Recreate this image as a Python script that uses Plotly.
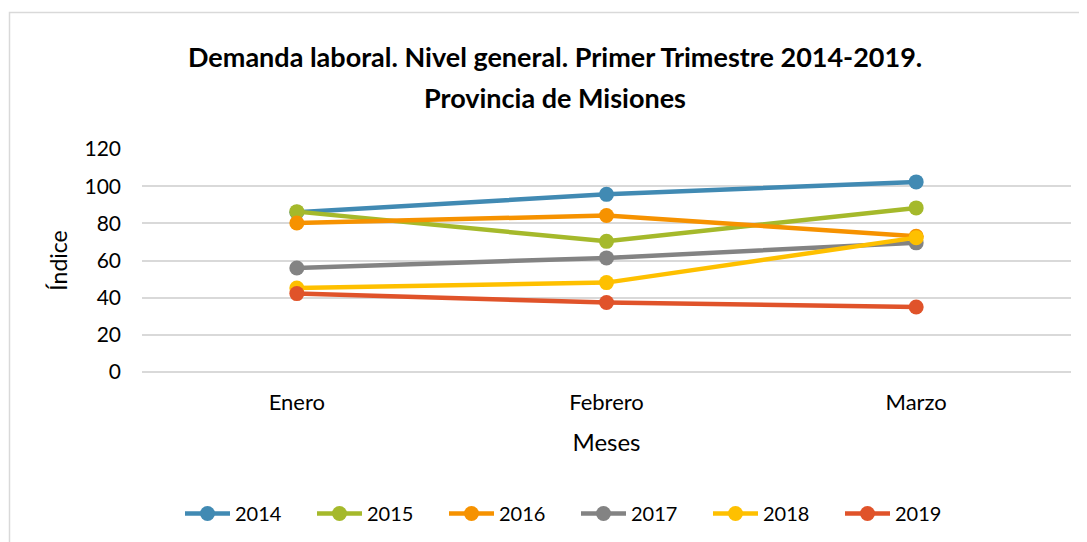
import plotly.graph_objects as go

meses = ["Enero", "Febrero", "Marzo"]
anios = ["2014", "2015", "2016", "2017", "2018", "2019"]
v2014 = [86.0, 95.6, 102.3]
v2015 = [86.3, 70.3, 88.3]
v2016 = [80.2, 84.2, 73.0]
v2017 = [56.0, 61.4, 69.5]
v2018 = [45.2, 48.1, 72.3]
v2019 = [42.2, 37.4, 35.0]
series = [v2014, v2015, v2016, v2017, v2018, v2019]

colores = ["#418AB3", "#A5B92B", "#F69200", "#838383", "#FEC000", "#E0532A"]

fuente = "Lato, 'Open Sans', sans-serif"

# la pagina tiene 8px de margen en el body, se compensa aqui
# (la figura es algo mas alta que la ventana para que la leyenda no empuje el margen)
W, H = 1079, 550
L, T, R, B = 134, 141, 16, 186
pw, ph = W - L - R, H - T - B

def px(xp):  # pixel de pantalla -> paper x
    return (xp - 8 - L) / pw

def py(yp):  # pixel de pantalla -> paper y
    return (H - B + 8 - yp) / ph

fig = go.Figure()
for anio, vals, col in zip(anios, series, colores):
    fig.add_trace(go.Scatter(
        x=meses, y=vals, name=anio, mode="lines+markers",
        line=dict(color=col, width=4.5),
        marker=dict(color=col, size=15),
    ))

fig.update_layout(
    width=W, height=H,
    paper_bgcolor="white", plot_bgcolor="white",
    margin=dict(l=L, r=R, t=T, b=B),
    font=dict(family=fuente, color="#000000", size=20),
    showlegend=True,
    legend=dict(orientation="h", x=px(180), xanchor="left", y=py(494), yanchor="top",
                font=dict(size=20), itemwidth=45, entrywidth=72, traceorder="normal"),
    xaxis=dict(
        type="category", range=[-0.5, 2.5], showgrid=False, zeroline=False,
        showline=False, ticks="", tickfont=dict(size=22), ticklabelstandoff=15,
        title=dict(text="Meses", font=dict(size=24), standoff=20),
    ),
    yaxis=dict(
        range=[0, 120], dtick=20, showgrid=True, gridcolor="#D9D9D9", gridwidth=1.5,
        zeroline=True, zerolinecolor="#D9D9D9", zerolinewidth=1.5,
        showline=False, ticks="", tickfont=dict(size=21),
        ticklabelstandoff=20,
        title=dict(text="Índice", font=dict(size=23), standoff=10),
    ),
    annotations=[
        dict(text="<b>Demanda laboral. Nivel general. Primer Trimestre 2014-2019.</b>",
             xref="paper", yref="paper", x=px(555), y=py(57),
             xanchor="center", yanchor="middle", showarrow=False,
             font=dict(size=27)),
        dict(text="<b>Provincia de Misiones</b>",
             xref="paper", yref="paper", x=px(555), y=py(97),
             xanchor="center", yanchor="middle", showarrow=False,
             font=dict(size=27)),
    ],
    shapes=[
        dict(type="rect", xref="paper", yref="paper",
             x0=px(9.5), x1=px(1110),
             y0=py(580), y1=py(12.5),
             line=dict(color="#D9D9D9", width=1.5), fillcolor="rgba(0,0,0,0)",
             layer="below"),
    ],
)

fig.write_html("out.html")
